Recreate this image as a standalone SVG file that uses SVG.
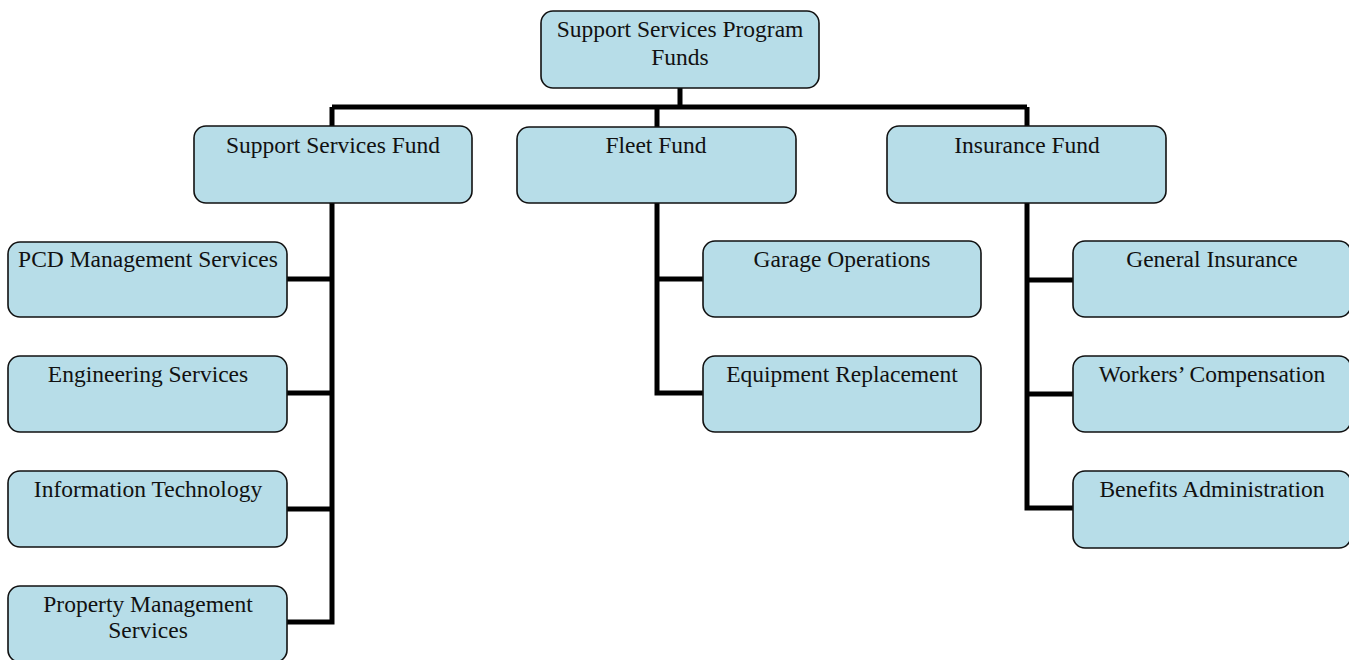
<svg xmlns="http://www.w3.org/2000/svg" width="1349" height="660" viewBox="0 0 1349 660">
<style>
.box{fill:#b7dde8;stroke:#111;stroke-width:1.6}
.t{font-family:"Liberation Serif","Times New Roman",serif;font-size:23.5px;fill:#111;text-anchor:middle}
.c{fill:none;stroke:#000;stroke-width:5;stroke-linejoin:miter;stroke-linecap:butt}
</style>
<rect width="1349" height="660" fill="#fff"/>
<g id="connectors">
<path class="c" d="M680 88V107M332 107H1027M657 107V127M332 107V126M1027 107V126"/>
<path class="c" d="M332 203V624.5M287 279H334.5M287 393H334.5M287 509H334.5M287 622H334.5"/>
<path class="c" d="M657 203V395.5M654.5 279H703M654.5 393H703"/>
<path class="c" d="M1027 203V510.5M1024.5 280H1073M1024.5 394H1073M1024.5 508H1073"/>
</g>
<g id="n-root"><rect class="box" x="541" y="11" width="278" height="77" rx="12"/><text class="t" x="680" y="37">Support Services Program</text><text class="t" x="680" y="65">Funds</text></g>
<g id="n-ssf"><rect class="box" x="194" y="126" width="278" height="77" rx="12"/><text class="t" x="333" y="153">Support Services Fund</text></g>
<g id="n-fleet"><rect class="box" x="517" y="127" width="279" height="76" rx="12"/><text class="t" x="656" y="153">Fleet Fund</text></g>
<g id="n-ins"><rect class="box" x="887" y="126" width="279" height="77" rx="12"/><text class="t" x="1027" y="153">Insurance Fund</text></g>
<g id="n-pcd"><rect class="box" x="8" y="242" width="279" height="75" rx="12"/><text class="t" x="148" y="267">PCD Management Services</text></g>
<g id="n-eng"><rect class="box" x="8" y="356" width="279" height="76" rx="12"/><text class="t" x="148" y="382">Engineering Services</text></g>
<g id="n-it"><rect class="box" x="8" y="471" width="279" height="76" rx="12"/><text class="t" x="148" y="497">Information Technology</text></g>
<g id="n-prop"><rect class="box" x="8" y="586" width="279" height="76" rx="12"/><text class="t" x="148" y="612">Property Management</text><text class="t" x="148" y="638">Services</text></g>
<g id="n-garage"><rect class="box" x="703" y="241" width="278" height="76" rx="12"/><text class="t" x="842" y="267">Garage Operations</text></g>
<g id="n-equip"><rect class="box" x="703" y="356" width="278" height="76" rx="12"/><text class="t" x="842" y="382">Equipment Replacement</text></g>
<g id="n-gen"><rect class="box" x="1073" y="241" width="278" height="76" rx="12"/><text class="t" x="1212" y="267">General Insurance</text></g>
<g id="n-work"><rect class="box" x="1073" y="356" width="278" height="76" rx="12"/><text class="t" x="1212" y="382">Workers’ Compensation</text></g>
<g id="n-ben"><rect class="box" x="1073" y="471" width="278" height="77" rx="12"/><text class="t" x="1212" y="497">Benefits Administration</text></g>
</svg>
